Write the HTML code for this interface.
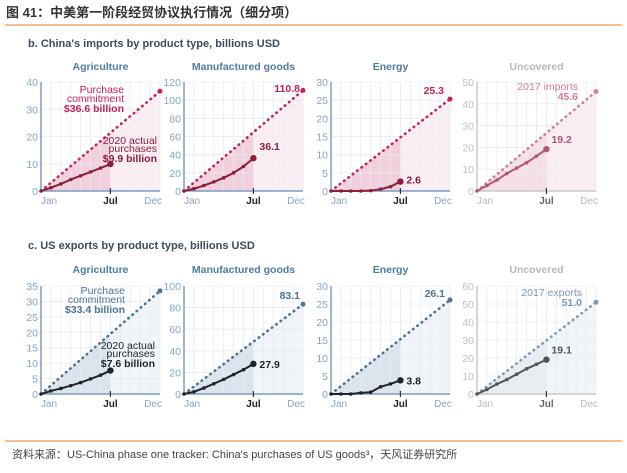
<!DOCTYPE html>
<html><head><meta charset="utf-8">
<style>
body{margin:0;background:#fff;width:627px;height:468px;overflow:hidden;font-family:"Liberation Sans","Noto Sans CJK SC",sans-serif;}
svg text{font-family:"Liberation Sans","Noto Sans CJK SC",sans-serif;}
</style></head>
<body>
<svg id="chart" width="627" height="468" xmlns="http://www.w3.org/2000/svg">
<text x="6" y="17" font-size="13" font-weight="bold" fill="#333">图 41：中美第一阶段经贸协议执行情况（细分项）</text>
<line x1="5" y1="25" x2="622" y2="25" stroke="#f0a868" stroke-width="1.5"/>
<text x="28" y="47" font-size="11" font-weight="bold" fill="#3d4b5c">b. China's imports by product type, billions USD</text>
<text x="28" y="249" font-size="11" font-weight="bold" fill="#3d4b5c">c. US exports by product type, billions USD</text>
<line x1="5" y1="441" x2="622" y2="441" stroke="#f0a868" stroke-width="1.5"/>
<text x="12" y="458" font-size="11" fill="#444">资料来源：US-China phase one tracker: China's purchases of US goods³，天风证券研究所</text>
<g id="panels"></g>
</svg>
<script>
const months = ["Jan","Jul","Dec"];
const cnAgri = [0,1.2,2.6,4.2,5.6,7.0,8.4,9.9];
const cnMfg = [0,2.5,6,10,14.5,20,27,36.1];
const cnEnergy = [0,0,0,0,0.1,0.5,1.2,2.6];
const cnUnc = [0,2.5,5,8,10.5,13,16,19.2];
const cnTargets = [36.6,110.8,25.3,45.6];
const usAgri = [0,1,1.8,2.7,3.7,4.9,6.1,7.6];
const usMfg = [0,2,5.5,9.5,13.5,18,22.5,27.9];
const usEnergy = [0,0,0,0.3,0.5,2,2.8,3.8];
const usUnc = [0,2.5,5.5,8,11,14,16.5,19.1];
const usTargets = [33.4,83.1,26.1,51.0];
const cnMax = [40,120,30,50], cnStep=[10,20,5,10];
const usMax = [35,100,30,60], usStep=[5,20,5,10];
const titles = ["Agriculture","Manufactured goods","Energy","Uncovered"];
const NS="http://www.w3.org/2000/svg";
const root=document.getElementById('panels');
function mk(tag,attrs,parent,txt){const e=document.createElementNS(NS,tag);for(const k in attrs)e.setAttribute(k,attrs[k]);if(txt!==undefined)e.textContent=txt;(parent||root).appendChild(e);return e;}
const xs=[41,184,331,477];
function panel(i,row,actual,target,ymax,ystep,slug){
  const top=row===0?82:286, bot=row===0?191:394, x0=xs[i], x1=x0+119;
  const unc=i===3, china=row===0;
  const g=mk('g',{});
  
  
  const X=m=>x0+(x1-x0)*m/12, Y=v=>bot-(bot-top)*v/ymax;
  const axisCol=unc?'#c8c8c8':'#7d9cc0';
  const cLine=china?(unc?'#d67a9c':'#c8205a'):(unc?'#7d9ab5':'#4a7596');
  const cAct=china?(unc?'#b05a70':'#8a1f3c'):(unc?'#555':'#1e2328');
  const fillLight=china?'#fbeef3':'#f1f4f8', fillDark=china?(unc?'#f6dfe7':'#f1cfdc'):(unc?'#e8edf2':'#dbe3ec');
  const t=mk('text',{x:(x0+x1)/2,y:row===0?70:273,'text-anchor':'middle','font-size':10.5,'font-weight':'bold',fill:unc?'#b8b8b8':'#4f7ba5'},g,titles[i]);
  
  mk('polygon',{points:`${X(0)},${Y(0)} ${X(12)},${Y(0)} ${X(12)},${Y(target)}`,fill:fillLight},g);
  mk('polygon',{points:`${X(0)},${Y(0)} ${X(7)},${Y(0)} ${X(7)},${Y(target*7/12)}`,fill:fillDark},g);
  for(let m=1;m<=12;m++) mk('line',{x1:X(m),x2:X(m),y1:top,y2:bot,stroke:'#e6ebf2','stroke-width':0.8},g);
  for(let v=0;v<=ymax;v+=ystep){
    mk('line',{x1:x0,x2:x1,y1:Y(v),y2:Y(v),stroke:'#e6ebf2','stroke-width':0.8},g);
    const l=mk('text',{x:x0-3,y:Y(v)+4,'text-anchor':'end','font-size':10.5,fill:unc?'#c0c0c0':'#86a4c6'},g,v);
    
  }
  mk('line',{x1:x0,x2:x0,y1:top,y2:bot,stroke:axisCol,'stroke-width':1.5},g);
  mk('line',{x1:x0,x2:x1,y1:bot,y2:bot,stroke:axisCol,'stroke-width':1.5},g);
  mk('line',{x1:X(7),x2:X(7),y1:bot-3,y2:bot+3,stroke:'#333','stroke-width':1.2},g);
  [[0,months[0]],[7,months[1]],[12,months[2]]].forEach(([m,s])=>{
    const l=mk('text',{x:m===0?X(0)+8:(m===12?X(12)-7:X(m)),y:bot+13,'text-anchor':'middle','font-size':10,fill:m===7?(unc?'#666':'#222'):(unc?'#bbb':'#86a4c6'),'font-weight':m===7?'bold':'normal'},g,s);
    
  });
  const cl=mk('line',{x1:X(0),y1:Y(0),x2:X(12),y2:Y(target),stroke:cLine,'stroke-width':2.6,'stroke-dasharray':'0.5 5','stroke-linecap':'round'},g);
  
  mk('circle',{cx:X(12),cy:Y(target),r:2.5,fill:cLine},g);
  const pl=mk('polyline',{points:actual.map((v,k)=>X(k)+','+Y(v)).join(' '),fill:'none',stroke:cAct,'stroke-width':2},g);
  
  actual.forEach((v,k)=>{const c=mk('circle',{cx:X(k),cy:Y(v),r:k===7?3.2:1.8,fill:cAct},g);
    });
  return {g,X,Y,cLine,cAct};
}
function txt(g,x,y,s,col,bold,anchor){const e=mk('text',{x:x,y:y,'font-size':10.5,fill:col,'font-weight':bold?'bold':'normal','text-anchor':anchor||'start'},g,s);
  return e;}
const cnA=[cnAgri,cnMfg,cnEnergy,cnUnc], usA=[usAgri,usMfg,usEnergy,usUnc];
const names=['agriculture','manufactured','energy','uncovered'];
const P=[],Q=[];
for(let i=0;i<4;i++){P.push(panel(i,0,cnA[i],cnTargets[i],cnMax[i],cnStep[i],'china-'+names[i]));Q.push(panel(i,1,usA[i],usTargets[i],usMax[i],usStep[i],'us-'+names[i]));}
let p=P[0];txt(p.g,124,93,'Purchase',p.cLine,false,'end');txt(p.g,124,102,'commitment',p.cLine,false,'end');txt(p.g,124,112,'$'+cnTargets[0]+' billion',p.cLine,true,'end');
txt(p.g,157,144,'2020 actual',p.cAct,false,'end');txt(p.g,157,152,'purchases',p.cAct,false,'end');txt(p.g,157,162,'$'+cnAgri[7]+' billion',p.cAct,true,'end');
p=P[1];txt(p.g,300,92,cnTargets[1].toFixed(1),p.cLine,true,'end');txt(p.g,p.X(7)+6,p.Y(cnMfg[7])-8,cnMfg[7].toFixed(1),p.cAct,true);
p=P[2];txt(p.g,444,94,cnTargets[2].toFixed(1),p.cLine,true,'end');txt(p.g,p.X(7)+6,p.Y(cnEnergy[7])+2,cnEnergy[7].toFixed(1),p.cAct,true);
p=P[3];txt(p.g,578,90,'2017 imports',p.cLine,false,'end');txt(p.g,578,100,cnTargets[3].toFixed(1),p.cLine,true,'end');txt(p.g,p.X(7)+5,p.Y(cnUnc[7])-6,cnUnc[7].toFixed(1),p.cAct,true);
p=Q[0];txt(p.g,125,294,'Purchase',p.cLine,false,'end');txt(p.g,125,303,'commitment',p.cLine,false,'end');txt(p.g,125,313,'$'+usTargets[0]+' billion',p.cLine,true,'end');
txt(p.g,155,349,'2020 actual',p.cAct,false,'end');txt(p.g,155,357,'purchases',p.cAct,false,'end');txt(p.g,155,367,'$'+usAgri[7]+' billion',p.cAct,true,'end');
p=Q[1];txt(p.g,300,299,usTargets[1].toFixed(1),p.cLine,true,'end');txt(p.g,p.X(7)+6,p.Y(usMfg[7])+4,usMfg[7].toFixed(1),p.cAct,true);
p=Q[2];txt(p.g,445,297,usTargets[2].toFixed(1),p.cLine,true,'end');txt(p.g,p.X(7)+6,p.Y(usEnergy[7])+4,usEnergy[7].toFixed(1),p.cAct,true);
p=Q[3];txt(p.g,582,296,'2017 exports',p.cLine,false,'end');txt(p.g,582,306,usTargets[3].toFixed(1),p.cLine,true,'end');txt(p.g,p.X(7)+5,p.Y(usUnc[7])-6,usUnc[7].toFixed(1),p.cAct,true);
</script>
</body></html>
